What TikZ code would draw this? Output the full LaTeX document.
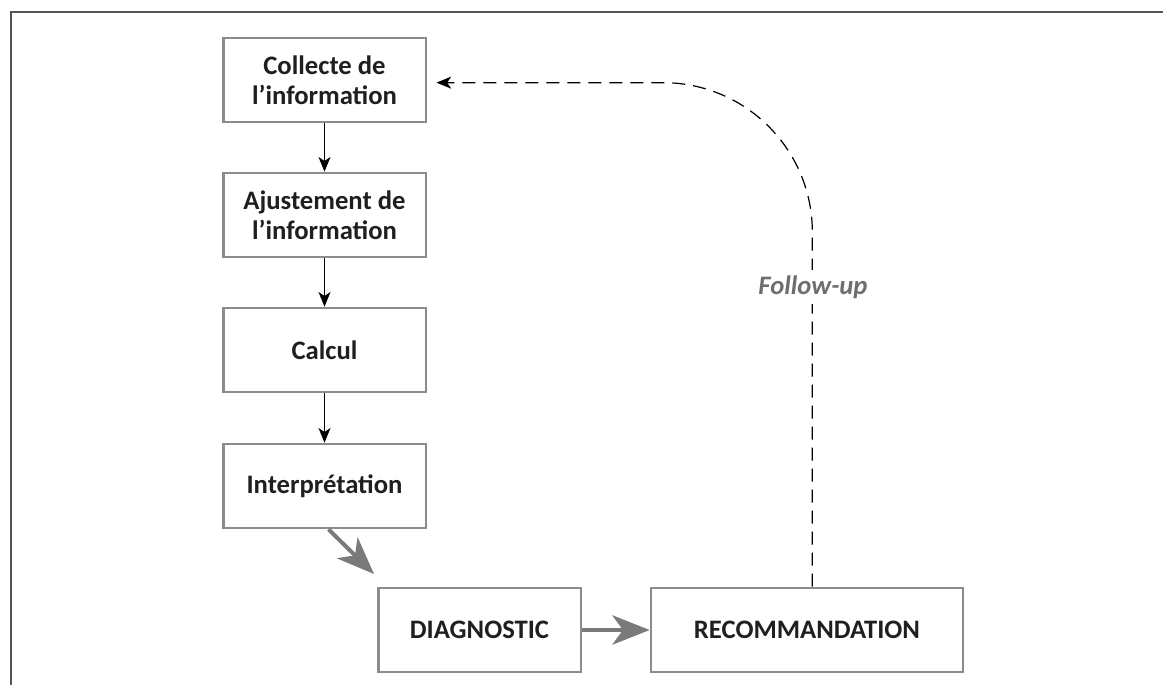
\documentclass[tikz,border=0pt]{standalone}
\usepackage{fontspec}
\setmainfont{Carlito}
\usetikzlibrary{arrows.meta}
\definecolor{boxgray}{HTML}{8C8C8C}
\definecolor{framegray}{HTML}{555555}
\definecolor{arrowgray}{HTML}{7A7A7A}
\definecolor{textgray}{HTML}{6E6E6E}
\begin{document}
\begin{tikzpicture}[x=0.75pt,y=-0.75pt]
\tikzset{stepbox/.style = {shape=rectangle,draw=boxgray,line width=2pt,minimum width=152pt,minimum height=63pt,align=center,text=black!88,font=\fontsize{20}{22.5}\selectfont\bfseries}}
\tikzset{thin arrow/.style = {-{Stealth[length=11pt,width=9pt,inset=3pt]},line width=0.8pt}}
\tikzset{big arrow/.style = {-{Stealth[length=28pt,width=22pt,inset=8pt]},draw=arrowgray,fill=arrowgray,line width=3pt}}
\tikzset{followup/.style = {-{Stealth[length=11pt,width=9pt,inset=3pt]},dash pattern=on 9.75pt off 6pt,line width=0.9pt,rounded corners=112pt}}
\useasboundingbox (0,0) rectangle (1163,685);
% frame
\draw[framegray,line width=1.2pt] (11,685) -- (11,12) -- (1163,12);
% boxes on the left
\node[stepbox] (collecte) at (324.5,80) {Collecte de\\l'information};
\node[stepbox] (ajust) at (324.5,215) {Ajustement de\\l'information};
\node[stepbox] (calcul) at (324.5,350) {Calcul};
\node[stepbox] (interp) at (324.5,486) {Interprétation};
% boxes at the bottom
\node[stepbox] (diag) at (479.5,630) {DIAGNOSTIC};
\node[stepbox,minimum width=234pt] (recom) at (807,630) {RECOMMANDATION};
\coordinate (diagin) at (374,574);
% arrows
\draw[thin arrow] (collecte) to (ajust);
\draw[thin arrow] (ajust) to (calcul);
\draw[thin arrow] (calcul) to (interp);
\draw[big arrow] ([xshift=3pt]interp.south) to (diagin);
\draw[big arrow] (diag) to (recom);
% follow-up loop back to the top
\draw[followup,shorten >=7pt] ([xshift=4pt]recom.north) |- ([yshift=-2pt]collecte.east);
\node[fill=white,inner sep=4pt,text=textgray,font=\fontsize{20}{22.5}\selectfont\bfseries\itshape] (fu) at (813,287) {Follow-up};
\end{tikzpicture}
\end{document}
